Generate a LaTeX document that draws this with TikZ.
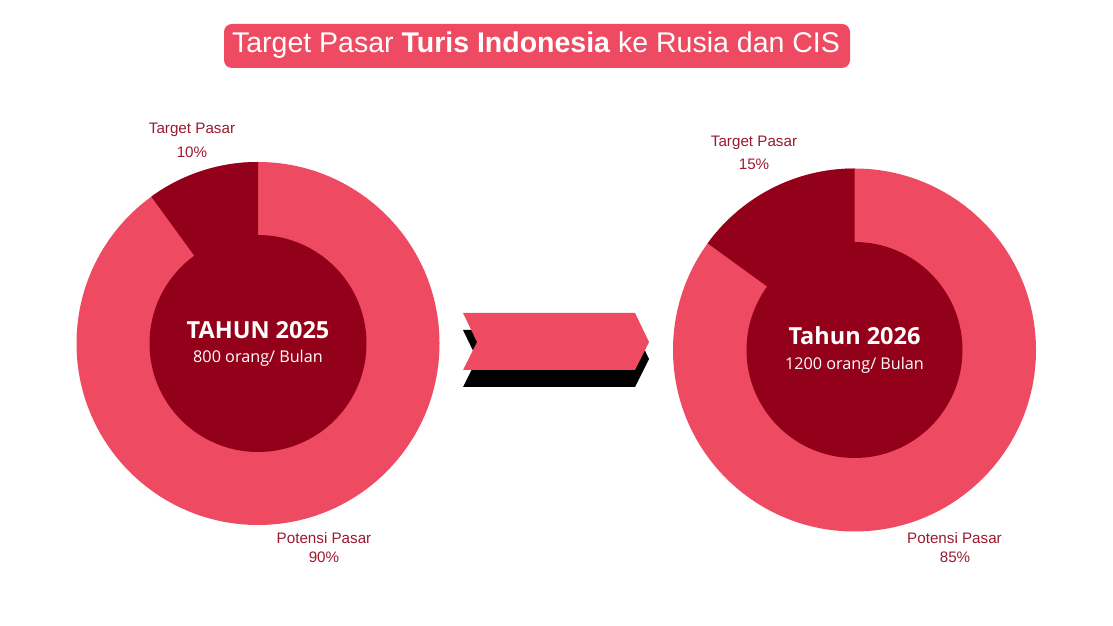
\documentclass[tikz,border=0pt]{standalone}
\usepackage{fontspec}
\setmainfont{Liberation Sans}
\newfontfamily\innerfont{Open Sans}
\definecolor{pinkc}{HTML}{EE4B62}
\definecolor{darkc}{HTML}{930019}
\definecolor{labelc}{HTML}{9A1A30}
\tikzset{
  lbl/.style={text=labelc, font=\fontsize{15.2}{17}\selectfont, inner sep=0pt, anchor=center},
  yearlbl/.style={text=white, font=\innerfont\bfseries\fontsize{23.5}{26}\selectfont, inner sep=0pt},
  sublbl/.style={text=white, font=\innerfont\fontsize{16.2}{19}\selectfont, inner sep=0pt},
}
\begin{document}
\begin{tikzpicture}[x=1pt,y=1pt]
\useasboundingbox (0,0) rectangle (1113,626);
% title
\fill[pinkc, rounded corners=8pt] (224,558) rectangle (850,602);
\node[text=white, font=\fontsize{28.5}{31}\selectfont, inner sep=0pt] (title) at (536,581)
  {Target Pasar \textbf{Turis Indonesia} ke Rusia dan CIS};
% left donut
\coordinate (lc) at (258,282.5);
\fill[pinkc] (lc) circle[radius=181.5];
\fill[darkc] (lc) -- ++(90:181.5) arc[start angle=90, end angle=126, radius=181.5] -- cycle;
\fill[darkc] (lc) circle[radius=108.5];
\node[yearlbl] (y1) at (258,296) {TAHUN 2025};
\node[sublbl] (s1) at (258,268) {800 orang/ Bulan};
\node[lbl] (t1) at (192,496) {Target Pasar};
\node[lbl] (t1p) at (192,474) {10\%};
\node[lbl] (p1) at (324,88) {Potensi Pasar};
\node[lbl] (p1p) at (324,69) {90\%};
% right donut
\coordinate (rc) at (854.5,276);
\fill[pinkc] (rc) circle[radius=181.5];
\fill[darkc] (rc) -- ++(90:181.5) arc[start angle=90, end angle=144, radius=181.5] -- cycle;
\fill[darkc] (rc) circle[radius=108];
\node[yearlbl] (y2) at (854.5,290) {Tahun 2026};
\node[sublbl] (s2) at (854.5,261) {1200 orang/ Bulan};
\node[lbl] (t2) at (754,483) {Target Pasar};
\node[lbl] (t2p) at (754,462) {15\%};
\node[lbl] (p2) at (954.5,88) {Potensi Pasar};
\node[lbl] (p2p) at (955,69) {85\%};
% chevron arrow with shadow
\fill[black] (463,296) -- (635,296) -- (649,267) -- (635,239) -- (463,239) -- (477,267) -- cycle;
\fill[pinkc] (463,313) -- (635,313) -- (649,284) -- (635,256) -- (463,256) -- (477,284) -- cycle;
\end{tikzpicture}
\end{document}
